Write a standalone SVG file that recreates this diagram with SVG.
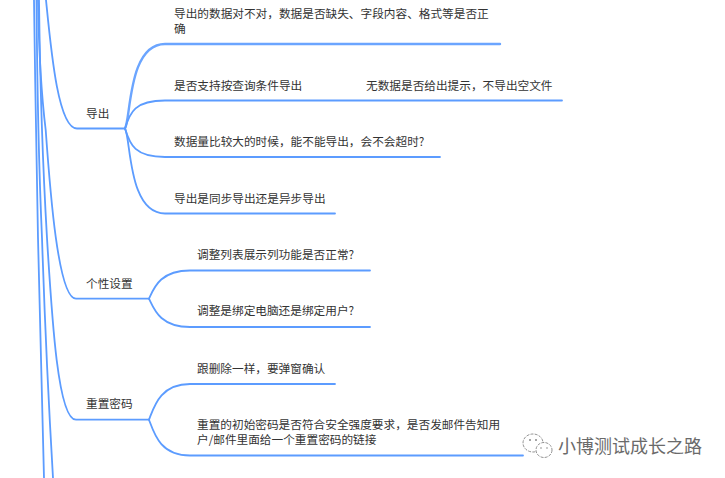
<svg xmlns="http://www.w3.org/2000/svg" width="725" height="478" viewBox="0 0 725 478">
<style>
.c{fill:none;stroke:#5c9cff;stroke-width:1.8;stroke-linecap:round}
.t{font-family:"Noto Sans CJK SC","Liberation Sans",sans-serif;font-size:11.67px;fill:#333}
.w{font-family:"Noto Sans CJK SC","Liberation Sans",sans-serif;font-size:18px;fill:#6a6a6a}
.i{fill:#fff;stroke:#777;stroke-width:.8;stroke-dasharray:3 1.2}
</style>
<rect width="725" height="478" fill="#fff"/>
<g id="connectors">
<path class="c" d="M34,0 C35,80 37,180 38,238 C40,330 42,410 44,478"/>
<path class="c" d="M36.500,0 C37,70 39,170 42,238 C45,330 49,410 53,478"/>
<path class="c" d="M39,0 C40,80 43,170 47,238 C52,320 58,419.700 76,419.700 L149,419.700"/>
<path class="c" d="M38,0 C39,60 42,100 45.700,130 C50,190 58,298.700 76,298.700 L149,298.700"/>
<path class="c" d="M46,0 C51,50 58,128.500 77,128.500 L125,128.500"/>
<path class="c" d="M125,128.500 C131,118 128,44 165,44 L500,44" style="stroke-width:2.400;stroke:#6ba5ff"/>
<path class="c" d="M125,128.500 C130,112 135,100.500 165,100.500 L562,100.500"/>
<path class="c" d="M125,128.500 C130,145 135,157 165,157 L440,157"/>
<path class="c" d="M125,128.500 C131,139 128,213.500 165,213.500 L335,213.500"/>
<path class="c" d="M149,298.700 C154,288 160,270.500 190,270.500 L370,270.500"/>
<path class="c" d="M149,298.700 C154,309 160,327 190,327 L370,327"/>
<path class="c" d="M149,419.700 C154,407 160,384 190,384 L335,384"/>
<path class="c" d="M149,419.700 C154,433 160,455.500 190,455.500 L523,455.500"/>
</g>
<g id="node-export"><text class="t" x="86" y="118">导出</text></g>
<g id="node-export-1"><text class="t"><tspan x="174" y="18">导出的数据对不对&#xFF0C;数据是否缺失、字段内容、格式等是否正</tspan><tspan x="174" y="33">确</tspan></text></g>
<g id="node-export-2"><text class="t" x="174" y="89.500">是否支持按查询条件导出</text></g>
<g id="node-export-2a"><text class="t" x="366" y="89.500">无数据是否给出提示&#xFF0C;不导出空文件</text></g>
<g id="node-export-3"><text class="t" x="174" y="146">数据量比较大的时候&#xFF0C;能不能导出&#xFF0C;会不会超时?</text></g>
<g id="node-export-4"><text class="t" x="174" y="203">导出是同步导出还是异步导出</text></g>
<g id="node-personal"><text class="t" x="86" y="288">个性设置</text></g>
<g id="node-personal-1"><text class="t" x="197" y="259">调整列表展示列功能是否正常?</text></g>
<g id="node-personal-2"><text class="t" x="197" y="315">调整是绑定电脑还是绑定用户?</text></g>
<g id="node-reset"><text class="t" x="86" y="408">重置密码</text></g>
<g id="node-reset-1"><text class="t" x="197" y="373">跟删除一样&#xFF0C;要弹窗确认</text></g>
<g id="node-reset-2"><text class="t"><tspan x="197" y="429">重置的初始密码是否符合安全强度要求&#xFF0C;是否发邮件告知用</tspan><tspan x="197" y="444">户/邮件里面给一个重置密码的链接</tspan></text></g>
<g id="watermark">
<ellipse class="i" cx="533" cy="443" rx="10" ry="9"/>
<ellipse class="i" cx="544" cy="450" rx="8" ry="7.500"/>
<circle cx="530" cy="440" r="1" fill="#888"/><circle cx="536" cy="440" r="1" fill="#888"/>
<circle cx="541" cy="448" r=".8" fill="#888"/><circle cx="547" cy="448" r=".8" fill="#888"/>
<text class="w" x="558" y="453">小博测试成长之路</text>
</g>
</svg>
